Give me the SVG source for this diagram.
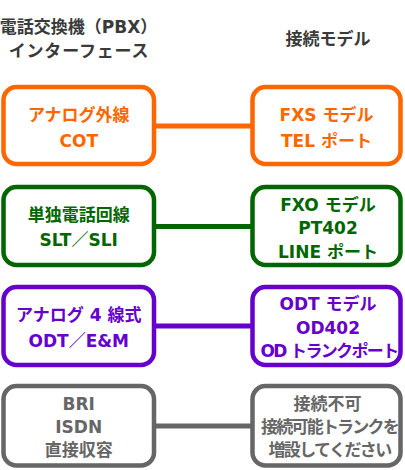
<svg xmlns="http://www.w3.org/2000/svg" width="405" height="470" viewBox="0 0 405 470">
<style>
text{font-family:"DejaVu Sans","Noto Sans CJK JP",sans-serif;font-weight:bold;font-size:17px;text-anchor:middle}
.box{fill:#fff;stroke-width:4.5}
.hdr{fill:#3a3a3a}
.or{stroke:#ff6600}.ort{fill:#ff6600}
.gr{stroke:#006600}.grt{fill:#006600}
.pu{stroke:#6600cc}.put{fill:#6600cc}
.gy{stroke:#666666}.gyt{fill:#666666}
.conn line{stroke-width:5}
</style>
<g id="headers">
<text class="hdr" x="78.5" y="33">電話交換機（PBX）</text>
<text class="hdr" x="79" y="57" letter-spacing="0.8">インターフェース</text>
<text class="hdr" x="328" y="45">接続モデル</text>
</g>
<g id="connectors" class="conn">
<line class="or" x1="154" y1="126" x2="252.5" y2="126"/>
<line class="gr" x1="154" y1="226.5" x2="252.5" y2="226.5"/>
<line class="pu" x1="154" y1="326" x2="252.5" y2="326"/>
<line class="gy" x1="154" y1="426" x2="252.5" y2="426"/>
</g>
<g id="cot">
<rect class="box or" x="3.5" y="87" width="150.5" height="77" rx="13"/>
<text class="ort" x="78.75" y="121">アナログ外線</text>
<text class="ort" x="78.75" y="147">COT</text>
</g>
<g id="fxs">
<rect class="box or" x="252.5" y="87" width="148" height="77" rx="13"/>
<text class="ort" x="326.5" y="121">FXS モデル</text>
<text class="ort" x="326.5" y="147">TEL ポート</text>
</g>
<g id="slt">
<rect class="box gr" x="3.5" y="187" width="150.5" height="78" rx="13"/>
<text class="grt" x="78.75" y="220.5">単独電話回線</text>
<text class="grt" x="78.75" y="246">SLT／SLI</text>
</g>
<g id="fxo">
<rect class="box gr" x="252.5" y="187" width="148" height="78" rx="13"/>
<text class="grt" x="328" y="210.5">FXO モデル</text>
<text class="grt" x="328" y="234">PT402</text>
<text class="grt" x="328" y="257.5">LINE ポート</text>
</g>
<g id="odt">
<rect class="box pu" x="3.5" y="287" width="150.5" height="78" rx="13"/>
<text class="put" x="78.75" y="321">アナログ 4 線式</text>
<text class="put" x="78.75" y="347">ODT／E&amp;M</text>
</g>
<g id="odtmodel">
<rect class="box pu" x="252.5" y="287" width="148" height="78" rx="13"/>
<text class="put" x="328" y="310">ODT モデル</text>
<text class="put" x="328" y="333.5">OD402</text>
<text class="put" x="329" y="356.5" letter-spacing="-1.65">OD トランクポート</text>
</g>
<g id="bri">
<rect class="box gy" x="3.5" y="386" width="150.5" height="79.5" rx="13"/>
<text class="gyt" x="78.75" y="409.5">BRI</text>
<text class="gyt" x="78.75" y="432.5">ISDN</text>
<text class="gyt" x="78.75" y="455.5">直接収容</text>
</g>
<g id="ng">
<rect class="box gy" x="252.5" y="386" width="148" height="79.5" rx="13"/>
<text class="gyt" x="327.5" y="409.5">接続不可</text>
<text class="gyt" x="329.5" y="432.5" letter-spacing="-1.8">接続可能トランクを</text>
<text class="gyt" x="329.5" y="455.5" letter-spacing="-1.6">増設してください</text>
</g>
</svg>
